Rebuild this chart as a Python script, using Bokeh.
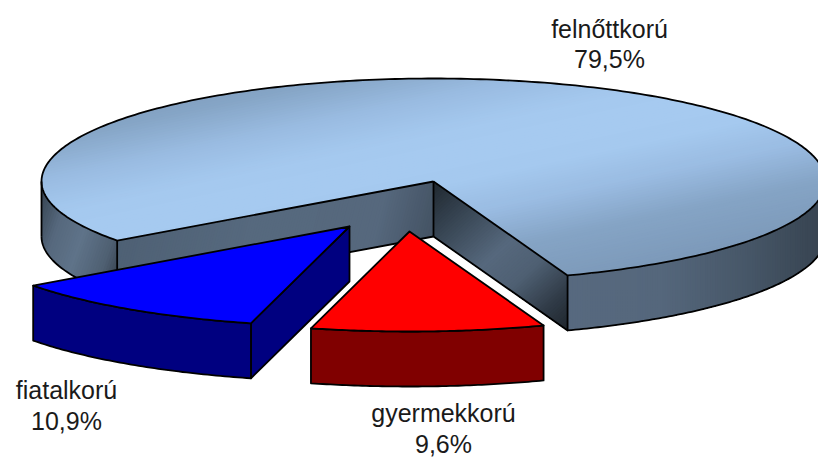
import numpy as np
from bokeh.plotting import figure
from bokeh.models import Range1d
from bokeh.embed import file_html
from bokeh.resources import INLINE
from bokeh.core.properties import value

categories = ["felnőttkorú", "gyermekkorú", "fiatalkorú"]
shares = [79.5, 9.6, 10.9]
tick_labels = ["79,5%", "9,6%", "10,9%"]

FONT = "Liberation Sans"
RX, RY_NEAR, RY_FAR, DEPTH = 392.0, 100.0, 103.0, 55.0
START = 70.0
LW = 1.8
APEX = {"felnőttkorú": (433.0, 181.0), "gyermekkorú": (409.0, 231.0), "fiatalkorú": (349.0, 226.0)}
LABEL = {"felnőttkorú": (609, 28, 58), "gyermekkorú": (443, 412, 443), "fiatalkorú": (66, 389, 420)}

p = figure(width=818, height=457, x_range=Range1d(0, 818), y_range=Range1d(457, 0),
           toolbar_location=None, output_backend="svg", min_border=0, outline_line_color=None)
p.axis.visible = False
p.grid.visible = False


def hexrgb(h):
    return np.array([int(h[i:i + 2], 16) for i in (1, 3, 5)], float)


def tohex(c):
    return "#%02x%02x%02x" % tuple(int(round(v)) for v in np.clip(c, 0, 255))


def ramp(t, stops):
    ts = [s[0] for s in stops]
    return tohex([np.interp(t, ts, [hexrgb(s[1])[k] for s in stops]) for k in range(3)])


def arc(apex, a0, a1, n=120, dy=0.0):
    a = np.radians(np.linspace(a0, a1, n))
    s = np.sin(a)
    return apex[0] + RX * np.cos(a), apex[1] + np.where(s < 0, RY_FAR, RY_NEAR) * s + dy


def clip(poly, nx, ny, d):
    out = []
    n = len(poly)
    for i in range(n):
        a, b = poly[i], poly[(i + 1) % n]
        da, db = nx * a[0] + ny * a[1] - d, nx * b[0] + ny * b[1] - d
        if da >= 0:
            out.append(a)
        if (da >= 0) != (db >= 0):
            t = da / (da - db)
            out.append((a[0] + (b[0] - a[0]) * t, a[1] + (b[1] - a[1]) * t))
    return out


def gradient_fill(x, y, nx, ny, stops, step=2.5):
    # overlapping layers, each running on to the far end, so no seams show between them
    norm = np.hypot(nx, ny)
    nx, ny = nx / norm, ny / norm
    poly = list(zip(map(float, x), map(float, y)))
    ds = [nx * a + ny * b for a, b in poly]
    xs, ys, cs = [], [], []
    d = min(ds)
    while d < max(ds):
        part = clip(poly, nx, ny, d)
        if len(part) >= 3:
            xs.append([q[0] for q in part])
            ys.append([q[1] for q in part])
            cs.append(ramp(d + step / 2, stops))
        d += step
    p.patches(xs, ys, fill_color=cs, line_color=None)


def outline(x, y):
    p.line(list(x), list(y), line_color="black", line_width=LW, line_join="round")


big, small_red, small_blue = [s * 3.6 for s in shares]
a_big_end = START - big
a_red_end = START + small_red
a_blue_end = a_red_end + small_blue
apex = APEX[categories[0]]
gap_end = a_big_end + 360

lx, ly = arc(apex, gap_end, gap_end, 1)
rx, ry = arc(apex, START, START, 1)
left_pt = (float(lx[0]), float(ly[0]))
right_pt = (float(rx[0]), float(ry[0]))


def quad(a, b):
    return [a[0], b[0], b[0], a[0]], [a[1], b[1], b[1] + DEPTH, a[1] + DEPTH]


qx, qy = quad(left_pt, apex)
gradient_fill(qx, qy, 1, .25, [(170, "#4e6074"), (300, "#56697e"), (420, "#56687d"), (490, "#3f4d5d")])
qx, qy = quad(apex, right_pt)
n_in = (right_pt[0] - apex[0], right_pt[1] + DEPTH - apex[1])
base = (n_in[0] * apex[0] + n_in[1] * apex[1]) / np.hypot(*n_in)
gradient_fill(qx, qy, n_in[0], n_in[1],
              [(base, "#20282f"), (base + 35, "#33404d"), (base + 95, "#56687d"), (base + 130, "#4f6073"),
               (base + 170, "#303b47"), (base + 200, "#1f262d")])

ax, ay = arc(apex, 180, gap_end, 60)
gradient_fill([*ax, *ax[::-1]], [*ay, *(ay[::-1] + DEPTH)], 1, .35,
              [(100, "#35424f"), (128, "#56687d"), (155, "#5f7389"), (185, "#4f6072"), (205, "#343f4b")])
ax, ay = arc(apex, START, -2, 120)
gradient_fill([*ax, *ax[::-1]], [*ay, *(ay[::-1] + DEPTH)], 1, 0,
              [(567, "#57697f"), (660, "#55677c"), (750, "#465667"), (826, "#36424f")])

tx, ty = arc(apex, a_big_end, START, 300)
gradient_fill([apex[0], *tx], [apex[1], *ty], 0.21, 1,
              [(105, "#7d9aba"), (145, "#85a4c5"), (185, "#9abce2"), (220, "#a5c9ef"), (245, "#a6caf0"),
               (270, "#a5c9ef"), (305, "#9abce2"), (345, "#85a4c5"), (390, "#7d9aba")])

outline([apex[0], *tx, apex[0]], [apex[1], *ty, apex[1]])
outline([apex[0]] * 2, [apex[1], apex[1] + DEPTH])
outline([left_pt[0], left_pt[0], apex[0]], [left_pt[1], left_pt[1] + DEPTH, apex[1] + DEPTH])
outline([apex[0], right_pt[0], right_pt[0]], [apex[1] + DEPTH, right_pt[1] + DEPTH, right_pt[1]])
bx, by = arc(apex, 180, gap_end, 50, DEPTH)
outline(bx, by)
bx, by = arc(apex, START, -2, 120, DEPTH)
outline(bx, by)
outline([apex[0] - RX] * 2, [apex[1], apex[1] + DEPTH])


def slice3d(name, a0, a1, top, side, cut_wall):
    ap = APEX[name]
    ax, ay = arc(ap, a0, a1, 60)
    if cut_wall:
        p.patch([ap[0], ax[0], ax[0], ap[0]], [ap[1], ay[0], ay[0] + DEPTH, ap[1] + DEPTH],
                fill_color=side, line_color="black", line_width=LW, line_join="round")
    p.patch([*ax, *ax[::-1]], [*ay, *(ay[::-1] + DEPTH)], fill_color=side, line_color="black",
            line_width=LW, line_join="round")
    p.patch([ap[0], *ax], [ap[1], *ay], fill_color=top, line_color="black", line_width=LW, line_join="round")


slice3d(categories[2], a_red_end, a_blue_end, "#0000ff", "#000080", True)
slice3d(categories[1], START, a_red_end, "#ff0000", "#800000", False)

for name, pct in zip(categories, tick_labels):
    x, y1, y2 = LABEL[name]
    p.text([x], [y1], text=[name], text_font=value(FONT), text_font_size="25px", text_color="#1a1a1a",
           text_align="center", text_baseline="middle")
    p.text([x], [y2], text=[pct], text_font=value(FONT), text_font_size="25px", text_color="#1a1a1a",
           text_align="center", text_baseline="middle")

open("out.html", "w").write(file_html(p, INLINE))
